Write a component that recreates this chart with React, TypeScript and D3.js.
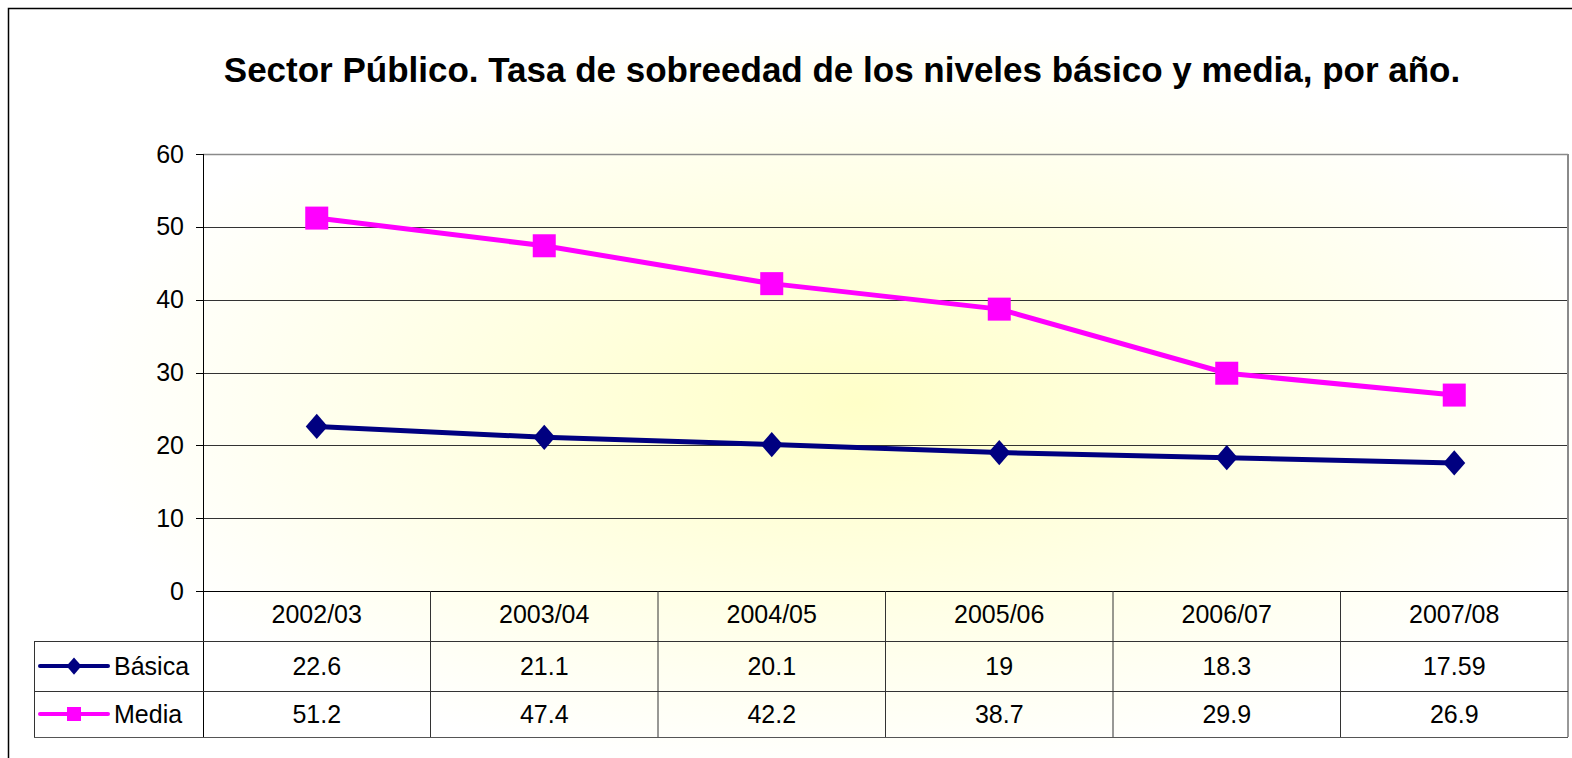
import * as d3 from "d3";

const title = "Sector Público. Tasa de sobreedad de los niveles básico y media, por año.";
const categories = ["2002/03", "2003/04", "2004/05", "2005/06", "2006/07", "2007/08"];
const basica = [22.6, 21.1, 20.1, 19, 18.3, 17.59];
const media = [51.2, 47.4, 42.2, 38.7, 29.9, 26.9];
const yTicks = [0, 10, 20, 30, 40, 50, 60];

const series = [
  { name: "Básica", values: basica, color: "#000080", marker: "diamond" },
  { name: "Media", values: media, color: "#FF00FF", marker: "square" },
];

const W = 1572;
const H = 758;
const plot = { left: 203, top: 154, right: 1568, bottom: 591 };
const rowH = 50;
const legendLeft = 34;
const font = "'Liberation Sans', Arial, sans-serif";

export default function App() {
  const x = d3.scaleBand().domain(categories).range([plot.left, plot.right]).padding(0);
  const y = d3.scaleLinear().domain([0, 60]).range([plot.bottom, plot.top]);
  const cx = (c: string) => (x(c) ?? 0) + x.bandwidth() / 2;

  const line = d3
    .line<number>()
    .x((_, i) => cx(categories[i]))
    .y((d) => y(d));

  const row1 = plot.bottom + rowH;
  const row2 = row1 + rowH;
  const row3 = row2 + 46;

  // square: w = h = size; diamond: w = size, h = size * 1.15
  const marker = (kind: string, px: number, py: number, color: string, size: number) => {
    if (kind === "square")
      return <rect x={px - size / 2} y={py - size / 2} width={size} height={size} fill={color} />;
    const hw = size / 2;
    const hh = (size * 1.15) / 2;
    return <path d={`M${px},${py - hh}L${px + hw},${py}L${px},${py + hh}L${px - hw},${py}Z`} fill={color} />;
  };

  return (
    <svg width={W} height={H} style={{ position: "absolute", left: 0, top: 0 }} fontFamily={font}>
      <defs>
        <radialGradient id="bg" cx="0.54" cy="0.52" r="0.5" gradientUnits="objectBoundingBox">
          <stop offset="0" stopColor="#FFFFC8" />
          <stop offset="1" stopColor="#FFFFFF" />
        </radialGradient>
      </defs>
      <rect x={8.5} y={8.5} width={W} height={H} fill="url(#bg)" stroke="#000" strokeWidth={1.5} />

      <text x={842} y={82} textAnchor="middle" fontSize={35} fontWeight="bold">
        {title}
      </text>

      {/* gridlines */}
      {yTicks.slice(1, -1).map((t) => (
        <line key={t} x1={plot.left} x2={plot.right} y1={Math.round(y(t)) + 0.5} y2={Math.round(y(t)) + 0.5} stroke="#333" strokeWidth={1} />
      ))}
      {/* plot border */}
      <line x1={plot.left} x2={plot.right} y1={plot.top + 0.5} y2={plot.top + 0.5} stroke="#8a8a8a" strokeWidth={1.5} />
      <line x1={plot.right} x2={plot.right} y1={plot.top} y2={plot.bottom} stroke="#8a8a8a" strokeWidth={2} />

      {/* y axis */}
      <line x1={plot.left + 0.5} x2={plot.left + 0.5} y1={plot.top} y2={row3} stroke="#000" />
      {yTicks.map((t) => (
        <g key={t}>
          <line x1={plot.left - 7} x2={plot.left} y1={Math.round(y(t)) + 0.5} y2={Math.round(y(t)) + 0.5} stroke="#000" />
          <text x={184} y={y(t) + 8.5} textAnchor="end" fontSize={25}>
            {t}
          </text>
        </g>
      ))}

      {/* data table */}
      <line x1={plot.left} x2={plot.right} y1={plot.bottom + 0.5} y2={plot.bottom + 0.5} stroke="#000" strokeWidth={1.2} />
      <line x1={legendLeft} x2={plot.right} y1={row1 + 0.5} y2={row1 + 0.5} stroke="#333" />
      <line x1={legendLeft} x2={plot.right} y1={row2 + 0.5} y2={row2 + 0.5} stroke="#333" />
      <line x1={legendLeft} x2={plot.right} y1={row3 + 0.5} y2={row3 + 0.5} stroke="#555" />
      <line x1={legendLeft + 0.5} x2={legendLeft + 0.5} y1={row1} y2={row3} stroke="#333" />
      {categories.map((c) => (
        <line key={c} x1={(x(c) ?? 0) + x.bandwidth()} x2={(x(c) ?? 0) + x.bandwidth()} y1={plot.bottom} y2={row3} stroke="#333" />
      ))}
      {categories.map((c) => (
        <text key={c} x={cx(c)} y={plot.bottom + 32} textAnchor="middle" fontSize={25}>
          {c}
        </text>
      ))}
      {series.map((s, si) => {
        const top = row1 + si * rowH;
        const mid = top + (si === 0 ? rowH : 46) / 2;
        return (
          <g key={s.name}>
            <line x1={40} x2={108} y1={mid} y2={mid} stroke={s.color} strokeWidth={4} strokeLinecap="round" />
            {marker(s.marker, 74, mid, s.color, s.marker === "square" ? 14 : 15)}
            <text x={114} y={mid + 9} fontSize={25}>
              {s.name}
            </text>
            {s.values.map((v, i) => (
              <text key={i} x={cx(categories[i])} y={mid + 9} textAnchor="middle" fontSize={25}>
                {String(v)}
              </text>
            ))}
          </g>
        );
      })}

      {/* series lines */}
      {series.map((s) => (
        <g key={s.name}>
          <path d={line(s.values) ?? ""} fill="none" stroke={s.color} strokeWidth={5} />
          {s.values.map((v, i) => (
            <g key={i}>{marker(s.marker, cx(categories[i]), y(v), s.color, s.marker === "square" ? 23 : 22)}</g>
          ))}
        </g>
      ))}
    </svg>
  );
}
